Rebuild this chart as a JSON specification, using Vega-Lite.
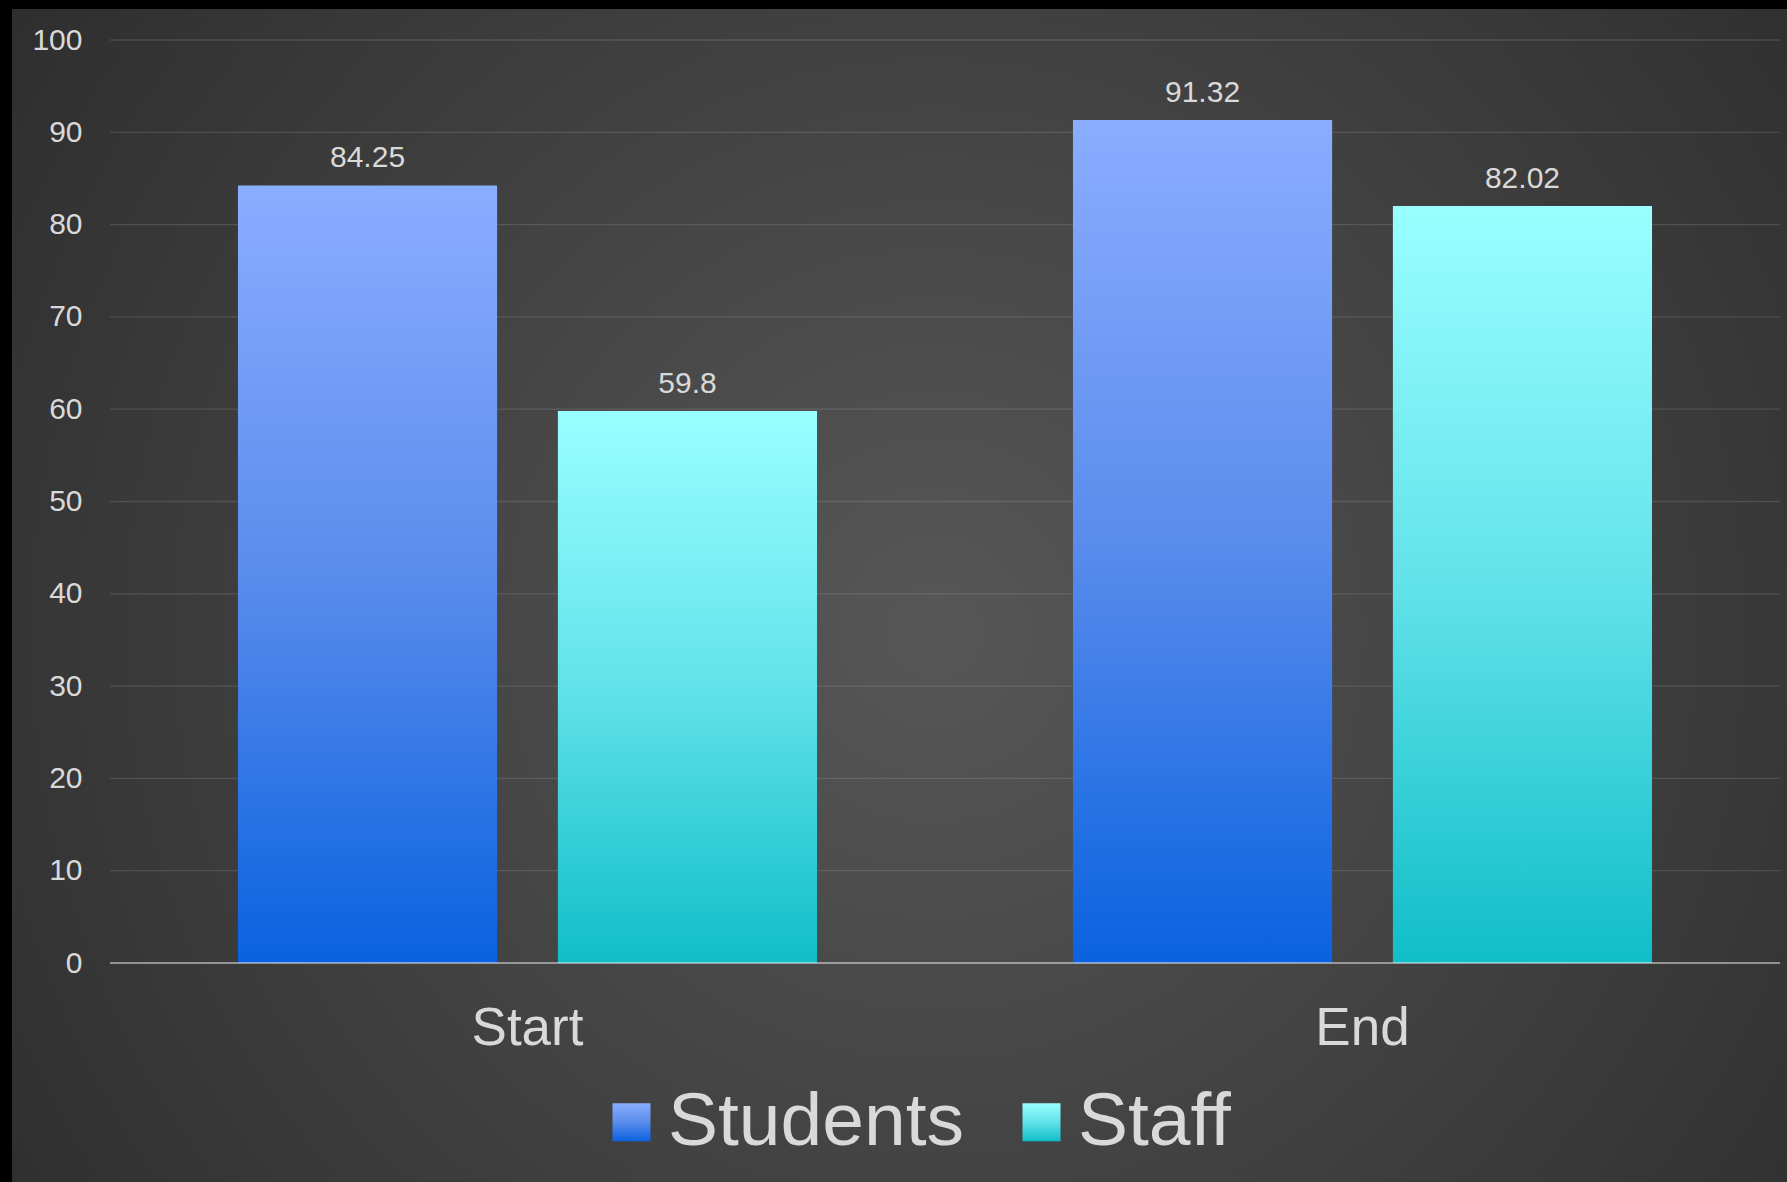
{
  "$schema": "https://vega.github.io/schema/vega-lite/v6.json",
  "width": 1775,
  "height": 1173,
  "autosize": {"type": "none"},
  "padding": {"left": 12, "top": 9, "right": 0, "bottom": 0},
  "background": "#000000",
  "config": {
    "font": "Liberation Sans",
    "view": {
      "stroke": null,
      "fill": {
        "gradient": "radial",
        "x1": 0.52, "y1": 0.52, "r1": 0,
        "x2": 0.52, "y2": 0.52, "r2": 0.75,
        "stops": [
          {"offset": 0, "color": "#575757"},
          {"offset": 1, "color": "#262626"}
        ]
      }
    }
  },
  "datasets": {
    "scores": [
      {"period": "Start", "group": "Students", "value": 84.25},
      {"period": "Start", "group": "Staff", "value": 59.8},
      {"period": "End", "group": "Students", "value": 91.32},
      {"period": "End", "group": "Staff", "value": 82.02}
    ],
    "ticks": [
      {"tick": 0}, {"tick": 10}, {"tick": 20}, {"tick": 30}, {"tick": 40}, {"tick": 50},
      {"tick": 60}, {"tick": 70}, {"tick": 80}, {"tick": 90}, {"tick": 100}
    ]
  },
  "layer": [
    {
      "data": {"name": "ticks"},
      "transform": [{"filter": "datum.tick > 0"}],
      "mark": {"type": "rule", "color": "#ffffff", "opacity": 0.12, "strokeWidth": 1.3},
      "encoding": {
        "y": {"field": "tick", "type": "quantitative", "title": null},
        "x": {"datum": "Start", "type": "nominal", "bandPosition": 0, "title": null},
        "x2": {"datum": "End", "bandPosition": 1}
      }
    },
    {
      "data": {"name": "scores"},
      "mark": {"type": "bar", "opacity": 0},
      "encoding": {
        "x": {
          "field": "period", "type": "nominal", "title": null,
          "scale": {"domain": ["Start", "End"], "paddingInner": 0, "paddingOuter": 0.062874, "align": 0.9333},
          "axis": {
            "orient": "bottom", "offset": -219, "labelPadding": 81, "labelBaseline": "alphabetic",
            "labelAlign": "center",
            "tickSize": 0, "ticks": false, "domain": false, "grid": false,
            "labelFontSize": 53, "labelColor": "#d9d9d9", "labelAngle": 0, "title": null
          }
        },
        "xOffset": {
          "field": "group", "type": "nominal",
          "scale": {"domain": ["Students", "Staff"], "paddingInner": 0.19, "paddingOuter": 0.4}
        },
        "y": {
          "field": "value", "type": "quantitative", "stack": null, "title": null,
          "scale": {"domain": [-23.727, 103.359], "nice": false, "zero": false},
          "axis": {
            "values": [0, 10, 20, 30, 40, 50, 60, 70, 80, 90, 100],
            "orient": "left", "offset": -98, "labelPadding": 28, "tickSize": 0, "ticks": false,
            "domain": false, "grid": false, "labelFontSize": 30, "labelColor": "#d9d9d9", "title": null
          }
        },
        "y2": {"datum": 0},
        "color": {
          "field": "group", "type": "nominal",
          "scale": {"domain": ["Students", "Staff"], "range": ["url(#gradient_1)", "url(#gradient_2)"]},
          "legend": {
            "orient": "none", "legendX": 582, "legendY": 1075.5, "direction": "horizontal",
            "title": null, "padding": 0,
            "symbolType": "square", "symbolSize": 1444, "symbolStrokeWidth": 0, "symbolOpacity": 1,
            "labelFontSize": 75, "labelFont": "Liberation Sans", "labelColor": "#d9d9d9",
            "labelOffset": -1, "columnPadding": 39, "labelLimit": 0
          }
        }
      }
    },
    {
      "data": {"name": "scores"},
      "mark": {"type": "bar"},
      "encoding": {
        "x": {"field": "period", "type": "nominal", "title": null},
        "xOffset": {"field": "group", "type": "nominal"},
        "y": {"field": "value", "type": "quantitative", "stack": null, "title": null},
        "y2": {"datum": 0},
        "color": {
          "condition": {
            "test": "datum.group === 'Students'",
            "value": {"gradient": "linear", "x1": 0, "y1": 0, "x2": 0, "y2": 1,
              "stops": [{"offset": 0, "color": "#8aadff"}, {"offset": 0.5, "color": "#5a8cec"}, {"offset": 1, "color": "#0a62e0"}]}
          },
          "value": {"gradient": "linear", "x1": 0, "y1": 0, "x2": 0, "y2": 1,
            "stops": [{"offset": 0, "color": "#99ffff"}, {"offset": 0.5, "color": "#62e2ea"}, {"offset": 1, "color": "#10bec8"}]}
        }
      }
    },
    {
      "data": {"name": "ticks"},
      "transform": [{"filter": "datum.tick == 0"}],
      "mark": {"type": "rule", "color": "#ffffff", "opacity": 0.46, "strokeWidth": 2.2},
      "encoding": {
        "y": {"field": "tick", "type": "quantitative", "title": null},
        "x": {"datum": "Start", "type": "nominal", "bandPosition": 0, "title": null},
        "x2": {"datum": "End", "bandPosition": 1}
      }
    },
    {
      "data": {"name": "scores"},
      "mark": {"type": "text", "dy": -18, "baseline": "alphabetic", "fontSize": 30, "color": "#d9d9d9", "font": "Liberation Sans"},
      "encoding": {
        "x": {"field": "period", "type": "nominal", "title": null},
        "xOffset": {"field": "group", "type": "nominal"},
        "y": {"field": "value", "type": "quantitative", "stack": null, "title": null},
        "text": {"field": "value", "type": "quantitative"}
      }
    }
  ]
}
